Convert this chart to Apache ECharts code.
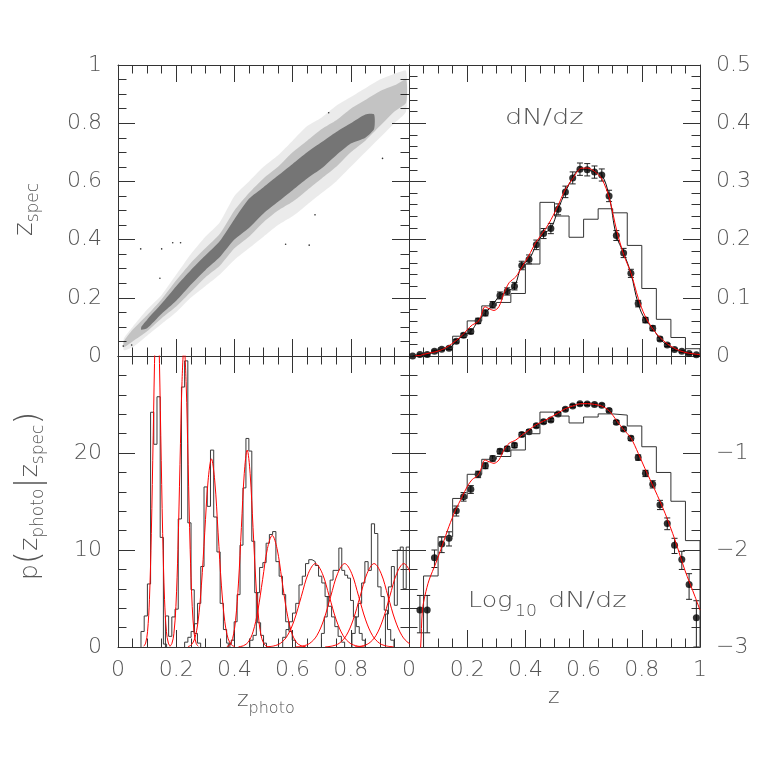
<!DOCTYPE html>
<html>
<head>
<meta charset="utf-8">
<script src="https://cdn.jsdelivr.net/npm/echarts@6/dist/echarts.min.js"></script>
<style>html,body{margin:0;background:#fff}#chart{width:764px;height:764px}</style>
</head>
<body>
<div id="chart"></div>
<script>
// ---- top left: z_spec vs z_photo cloud (density bands) ----
const bandZ  = [0.02, 0.05, 0.10, 0.15, 0.20, 0.25, 0.30, 0.35, 0.40, 0.45, 0.50, 0.55, 0.60, 0.65, 0.70, 0.75, 0.80, 0.85, 0.90, 0.95, 0.99]
const haloLo = [0.02, 0.03, 0.07, 0.11, 0.15, 0.20, 0.24, 0.28, 0.33, 0.37, 0.41, 0.45, 0.48, 0.52, 0.56, 0.60, 0.65, 0.70, 0.75, 0.80, 0.84]
const haloHi = [0.06, 0.10, 0.16, 0.21, 0.28, 0.35, 0.41, 0.46, 0.55, 0.60, 0.65, 0.69, 0.74, 0.79, 0.82, 0.86, 0.89, 0.92, 0.95, 0.97, 0.98]
const midLo  = [0.03, 0.05, 0.085, 0.13, 0.17, 0.22, 0.27, 0.31, 0.37, 0.41, 0.46, 0.50, 0.53, 0.57, 0.61, 0.65, 0.70, 0.74, 0.79, 0.84, 0.87]
const midHi  = [0.05, 0.09, 0.14, 0.195, 0.26, 0.32, 0.37, 0.42, 0.50, 0.56, 0.61, 0.65, 0.70, 0.74, 0.78, 0.81, 0.85, 0.88, 0.91, 0.93, 0.95]
const coreZ  = [0.08, 0.10, 0.15, 0.20, 0.25, 0.30, 0.35, 0.40, 0.45, 0.50, 0.55, 0.60, 0.65, 0.70, 0.75, 0.80, 0.85, 0.88]
const coreLo = [0.09, 0.095, 0.145, 0.19, 0.245, 0.295, 0.34, 0.40, 0.44, 0.49, 0.53, 0.57, 0.61, 0.645, 0.69, 0.73, 0.75, 0.78]
const coreHi = [0.10, 0.125, 0.18, 0.24, 0.295, 0.345, 0.395, 0.47, 0.54, 0.58, 0.62, 0.66, 0.70, 0.735, 0.77, 0.80, 0.83, 0.83]
const strayPts = [[0.018, 0.034], [0.047, 0.038], [0.078, 0.368], [0.150, 0.368], [0.188, 0.389], [0.215, 0.389],
  [0.144, 0.267], [0.576, 0.384], [0.657, 0.381], [0.677, 0.485], [0.724, 0.836], [0.909, 0.679]]

// ---- right panels: dN/dz ----
const pointZ = [0.0125, 0.0375, 0.0625, 0.0875, 0.1125, 0.1375, 0.1625, 0.1875, 0.2125, 0.2375,
  0.2625, 0.2875, 0.3125, 0.3375, 0.3625, 0.3875, 0.4125, 0.4375, 0.4625, 0.4875,
  0.5125, 0.5375, 0.5625, 0.5875, 0.6125, 0.6375, 0.6625, 0.6875, 0.7125, 0.7375,
  0.7625, 0.7875, 0.8125, 0.8375, 0.8625, 0.8875, 0.9125, 0.9375, 0.9625, 0.9875]
const pointN = [0, 0.0024, 0.0024, 0.0083, 0.0115, 0.0132, 0.0254, 0.0355, 0.0422, 0.0603,
  0.0740, 0.0880, 0.1040, 0.1109, 0.1200, 0.1555, 0.1660, 0.1910, 0.2104, 0.2190,
  0.2520, 0.2820, 0.3060, 0.3210, 0.3200, 0.3160, 0.3110, 0.2750, 0.2070, 0.1770,
  0.1420, 0.0900, 0.0617, 0.0477, 0.0293, 0.0188, 0.0112, 0.0080, 0.0044, 0.0020]
const pointErr = [0, 0.0010, 0.0010, 0.0017, 0.0021, 0.0022, 0.0030, 0.0036, 0.0039, 0.0046,
  0.0051, 0.0055, 0.0060, 0.0062, 0.0065, 0.0073, 0.0076, 0.0082, 0.0086, 0.0088,
  0.0094, 0.0099, 0.0103, 0.0106, 0.0106, 0.0105, 0.0104, 0.0098, 0.0085, 0.0079,
  0.0070, 0.0056, 0.0046, 0.0041, 0.0032, 0.0026, 0.0020, 0.0017, 0.0013, 0.0010]
const histEdges = [0, 0.05, 0.10, 0.15, 0.20, 0.25, 0.30, 0.35, 0.40, 0.45, 0.50,
  0.55, 0.60, 0.65, 0.70, 0.75, 0.80, 0.85, 0.90, 0.95, 1.00]
const histN = [0, 0.0054, 0.0137, 0.0340, 0.0603, 0.0861, 0.0920, 0.1074, 0.1580, 0.2640,
  0.2405, 0.2040, 0.2350, 0.2530, 0.2460, 0.1900, 0.1160, 0.0630, 0.0318, 0.0125]
const fitZ = [0.020, 0.035, 0.040, 0.046, 0.055, 0.069, 0.092, 0.115, 0.137, 0.160, 0.183, 0.200,
  0.218, 0.235, 0.246, 0.261, 0.275, 0.292, 0.309, 0.326, 0.344, 0.367, 0.389, 0.412,
  0.435, 0.458, 0.481, 0.510, 0.536, 0.563, 0.589, 0.613, 0.638, 0.663, 0.688, 0.714,
  0.738, 0.763, 0.788, 0.811, 0.845, 0.880, 0.914, 0.948, 0.983, 1.000]
const fitN = [0.0002, 0.0008, 0.0010, 0.0024, 0.0034, 0.0049, 0.0073, 0.0113, 0.0174, 0.0258, 0.0355, 0.0450,
  0.0536, 0.0579, 0.0668, 0.0847, 0.0813, 0.0783, 0.0847, 0.1074, 0.1259, 0.1361, 0.1535, 0.1726,
  0.1945, 0.2104, 0.2280, 0.2560, 0.2850, 0.3050, 0.3220, 0.3230, 0.3170, 0.3040, 0.2720, 0.2150,
  0.1740, 0.1420, 0.0990, 0.0690, 0.0416, 0.0239, 0.0127, 0.0062, 0.0033, 0.0024]

// ---- bottom left: p(z_photo | z_spec) histograms and their gaussian fits ----
const condStart = [0.079, 0.163, 0.229, 0.379, 0.453, 0.566, 0.699, 0.804, 0.919]
const condWidth = [0.011, 0.011, 0.0111, 0.0101, 0.0112, 0.0112, 0.010, 0.0111, 0.0102]
const condCounts = [
  [1.6, 3.2, 6.5, 24.2, 20.9, 25.8, 11.3, 0.3],
  [3.2, 1.1, 3.1, 3.9, 13.2, 26.8, 29.5, 12.8, 5.9, 1.4, 0.4],
  [0.5, 1.0, 1.6, 2.4, 4.5, 8.3, 16.5, 14.5, 20.3, 13.4, 9.8, 4.5, 1.8, 0.4],
  [0.3, 0.7, 2.6, 5.4, 10.5, 16.4, 21.5, 20.2, 10.9, 5.6, 2.5, 1.2, 0.4],
  [0.7, 1.2, 5.6, 8.2, 8.7, 10.7, 11.6, 11.9, 8.8, 7.3, 5.4, 2.6, 1.6, 0.7],
  [1.0, 1.8, 2.6, 3.5, 4.5, 6.4, 7.3, 8.6, 9.0, 8.8, 8.4, 7.3, 6.6, 5.2, 4.2, 3.1, 2.1, 1.1, 0.5],
  [1.4, 3.1, 5.2, 6.9, 7.9, 7.9, 10.2, 7.9, 7.4, 7.1, 4.8, 3.1, 2.1, 1.4, 0.7],
  [1.4, 3.1, 4.5, 6.6, 8.8, 7.9, 12.7, 11.7, 6.2, 5.2, 3.8, 1.8, 0.7],
  [3.4, 6.2, 8.3, 4.3, 10.0, 10.3, 6.0, 10.3, 10.3]
]
const gaussStart = [0.0885, 0.178, 0.2405, 0.374, 0.4145, 0.510, 0.611, 0.712, 0.814]
const gaussStep = [0.0065, 0.007, 0.0115, 0.010, 0.0165, 0.024, 0.024, 0.024, 0.024]
const gaussVals = [
  [0.08, 0.40, 1.58, 4.87, 11.69, 21.83, 31.77, 36.0, 31.77, 21.83, 11.69, 4.87, 1.58, 0.40, 0.08],
  [0.07, 0.34, 1.36, 4.19, 10.07, 18.80, 27.36, 31.0, 27.36, 18.80, 10.07, 4.19, 1.36, 0.34, 0.07],
  [0.04, 0.22, 0.85, 2.62, 6.30, 11.77, 17.12, 19.4, 17.12, 11.77, 6.30, 2.62, 0.85, 0.22, 0.04],
  [0.04, 0.23, 0.89, 2.75, 6.59, 12.31, 17.91, 20.3, 17.91, 12.31, 6.59, 2.75, 0.89, 0.23, 0.04],
  [0.03, 0.13, 0.50, 1.56, 3.73, 6.97, 10.15, 11.5, 10.15, 6.97, 3.73, 1.56, 0.50, 0.13, 0.03],
  [0.02, 0.10, 0.38, 1.16, 2.79, 5.22, 7.59, 8.6, 7.59, 5.22, 2.79, 1.16, 0.38, 0.10, 0.02],
  [0.02, 0.10, 0.38, 1.16, 2.79, 5.22, 7.59, 8.6, 7.59, 5.22, 2.79, 1.16, 0.38, 0.10, 0.02],
  [0.02, 0.10, 0.38, 1.16, 2.79, 5.22, 7.59, 8.6, 7.59, 5.22, 2.79, 1.16, 0.38, 0.10, 0.02],
  [0.02, 0.10, 0.38, 1.16, 2.79, 5.22, 7.59, 8.6, 7.59, 5.22, 2.79, 1.16, 0.38, 0.10, 0.02]
]

const INK = '#333'
const TXT = '#555'
const RED = '#ff0000'
const FONT = 'DejaVu Sans'
const lg = v => (v > 0 ? Math.log10(v) : -9)
const fmt = v => String(+(+v).toFixed(2)).replace('-', '\u2212')

const chart = echarts.init(document.getElementById('chart'))

function axis(dim, grid, pos, min, max, step, minor, formatter) {
  return {
    type: 'value', gridIndex: grid, position: pos, min, max, interval: step,
    axisLine: { show: true, onZero: false, lineStyle: { color: INK, width: 1 } },
    axisTick: { show: true, inside: true, length: 17, lineStyle: { color: INK } },
    minorTick: { show: true, splitNumber: minor, length: 8.5, lineStyle: { color: INK } },
    splitLine: { show: false },
    axisLabel: {
      show: !!formatter, formatter, margin: dim === 'x' ? 12 : 16,
      color: TXT, fontFamily: FONT, fontWeight: 200, fontSize: 22
    }
  }
}

function steps(edges, vals, tf) {
  const out = [[edges[0], tf(0)]]
  vals.forEach((v, i) => { out.push([edges[i], tf(v)], [edges[i + 1], tf(v)]) })
  out.push([edges[edges.length - 1], tf(0)])
  return out
}

function line(xi, data, color, extra) {
  return Object.assign({
    type: 'line', xAxisIndex: xi, yAxisIndex: xi, data, symbol: 'none', clip: true,
    lineStyle: { color, width: 1 }, silent: true
  }, extra || {})
}

function band(xs, lo, hi, alpha) {
  return {
    type: 'custom', xAxisIndex: 0, yAxisIndex: 0, data: [[0.5, 0.5]], silent: true,
    renderItem: (p, api) => {
      const pts = xs.map((x, i) => api.coord([x, hi[i]]))
      for (let i = xs.length - 1; i >= 0; i--) pts.push(api.coord([xs[i], lo[i]]))
      return { type: 'polygon', shape: { points: pts, smooth: 0.2 }, style: { fill: 'rgba(0,0,0,' + alpha + ')' } }
    }
  }
}

function errBars(xi, data) {
  return {
    type: 'custom', xAxisIndex: xi, yAxisIndex: xi, data, clip: true, silent: true,
    encode: { x: 0, y: [1, 2] },
    renderItem: (p, api) => {
      const a = api.coord([api.value(0), api.value(1)])
      const b = api.coord([api.value(0), api.value(2)])
      const st = { stroke: '#222', lineWidth: 1 }
      return {
        type: 'group', children: [
          { type: 'line', shape: { x1: a[0], y1: a[1], x2: b[0], y2: b[1] }, style: st },
          { type: 'line', shape: { x1: a[0] - 3, y1: a[1], x2: a[0] + 3, y2: a[1] }, style: st },
          { type: 'line', shape: { x1: b[0] - 3, y1: b[1], x2: b[0] + 3, y2: b[1] }, style: st }
        ]
      }
    }
  }
}

const series = []
// top left
series.push(band(bandZ, haloLo, haloHi, 0.08))
series.push(band(bandZ, midLo, midHi, 0.17))
series.push(band(coreZ, coreLo, coreHi, 0.4))
series.push({ type: 'scatter', xAxisIndex: 0, yAxisIndex: 0, data: strayPts, symbolSize: 1.6, itemStyle: { color: '#000' }, silent: true })

// top right (linear)
const ptsLin = pointZ.map((z, i) => [z, pointN[i]])
series.push(line(1, steps(histEdges, histN, v => v), INK))
series.push(line(1, ptsLin, '#111', { smooth: 0.4 }))
series.push(line(1, fitZ.map((z, i) => [z, fitN[i]]), RED, { smooth: 0.3 }))
series.push(errBars(1, pointZ.map((z, i) => [z, pointN[i] - pointErr[i], pointN[i] + pointErr[i]]).filter(d => d[2] > d[1])))
series.push({ type: 'scatter', xAxisIndex: 1, yAxisIndex: 1, data: ptsLin, symbolSize: 7, itemStyle: { color: '#000' }, silent: true })

// bottom left
condCounts.forEach((vals, k) => {
  const edges = vals.map((v, i) => condStart[k] + i * condWidth[k])
  edges.push(condStart[k] + vals.length * condWidth[k])
  series.push(line(2, steps(edges, vals, v => v), '#3a3a3a'))
})
gaussVals.forEach((vals, k) => {
  series.push(line(2, vals.map((v, i) => [gaussStart[k] + i * gaussStep[k], v]), RED, { smooth: 0.35 }))
})

// bottom right (log10)
const keep = pointN.map((v, i) => i).filter(i => pointN[i] > 0)
series.push(line(3, steps(histEdges, histN, lg), INK))
series.push(line(3, fitZ.map((z, i) => [z, lg(fitN[i])]), RED, { smooth: 0.3 }))
series.push(errBars(3, keep.map(i => [pointZ[i], lg(pointN[i] - pointErr[i]), lg(pointN[i] + pointErr[i])])))
series.push({ type: 'scatter', xAxisIndex: 3, yAxisIndex: 3, data: keep.map(i => [pointZ[i], lg(pointN[i])]), symbolSize: 7, itemStyle: { color: '#000' }, silent: true })

// mixed-size labels (main letters + subscripts), laid out left to right
const mctx = document.createElement('canvas').getContext('2d')
function textW(t, size) { mctx.font = '200 ' + size + 'px "' + FONT + '"'; return mctx.measureText(t).width }
function label(x, y, rot, pieces, sx) {
  let cx = 0
  const kids = pieces.map(([t, size, dy]) => {
    const el = {
      type: 'text', x: cx, y: dy - 0.35 * size,
      style: { text: t, fontSize: size, fontFamily: FONT, fontWeight: 200, fill: TXT, verticalAlign: 'middle', align: 'left' }
    }
    cx += textW(t, size)
    return el
  })
  return { type: 'group', x, y, rotation: rot, scaleX: sx || 1, children: kids }
}

const graphic = [
  label(34, 236, Math.PI / 2, [['z', 26, 0], ['spec', 17, 6]]),
  label(39, 580, Math.PI / 2, [['p', 25, 0], ['(', 34, 3], ['z', 25, 0], ['photo', 17, 6], ['|', 34, 3], ['z', 25, 0], ['spec', 17, 6], [')', 34, 3]]),
  label(237, 708, 0, [['z', 22, 0], ['photo', 16, 6]]),
  label(548, 705, 0, [['z', 22, 0]]),
  label(505, 126, 0, [['dN/dz', 21, 0]], 1.3),
  label(468, 609, 0, [['Log', 22, 0]], 1.15),
  label(515, 617, 0, [['10', 15, 0]], 1.15),
  label(548, 609, 0, [['dN/dz', 21, 0]], 1.3)
]

const option = {
  animation: false,
  backgroundColor: '#fff',
  grid: [
    { left: 118, top: 65, width: 291, height: 291 },
    { left: 409, top: 65, width: 291, height: 291 },
    { left: 118, top: 356, width: 291, height: 291 },
    { left: 409, top: 356, width: 291, height: 291 }
  ],
  xAxis: [
    axis('x', 0, 'bottom', 0, 1, 0.2, 4),
    axis('x', 1, 'bottom', 0, 1, 0.2, 4),
    axis('x', 2, 'bottom', 0, 1, 0.2, 4, v => (v >= 1 ? '' : fmt(v))),
    axis('x', 3, 'bottom', 0, 1, 0.2, 4, fmt),
    axis('x', 0, 'top', 0, 1, 0.2, 4),
    axis('x', 1, 'top', 0, 1, 0.2, 4),
    axis('x', 2, 'top', 0, 1, 0.2, 4),
    axis('x', 3, 'top', 0, 1, 0.2, 4)
  ],
  yAxis: [
    axis('y', 0, 'left', 0, 1, 0.2, 4, fmt),
    axis('y', 1, 'right', 0, 0.5, 0.1, 5, fmt),
    axis('y', 2, 'left', 0, 30, 10, 5, v => (v >= 30 ? '' : fmt(v))),
    axis('y', 3, 'right', -3, 0, 1, 5, v => (v >= 0 ? '' : fmt(v))),
    axis('y', 0, 'right', 0, 1, 0.2, 4),
    axis('y', 1, 'left', 0, 0.5, 0.1, 5),
    axis('y', 2, 'right', 0, 30, 10, 5),
    axis('y', 3, 'left', -3, 0, 1, 5)
  ],
  series,
  graphic
}
chart.setOption(option)
</script>
</body>
</html>
